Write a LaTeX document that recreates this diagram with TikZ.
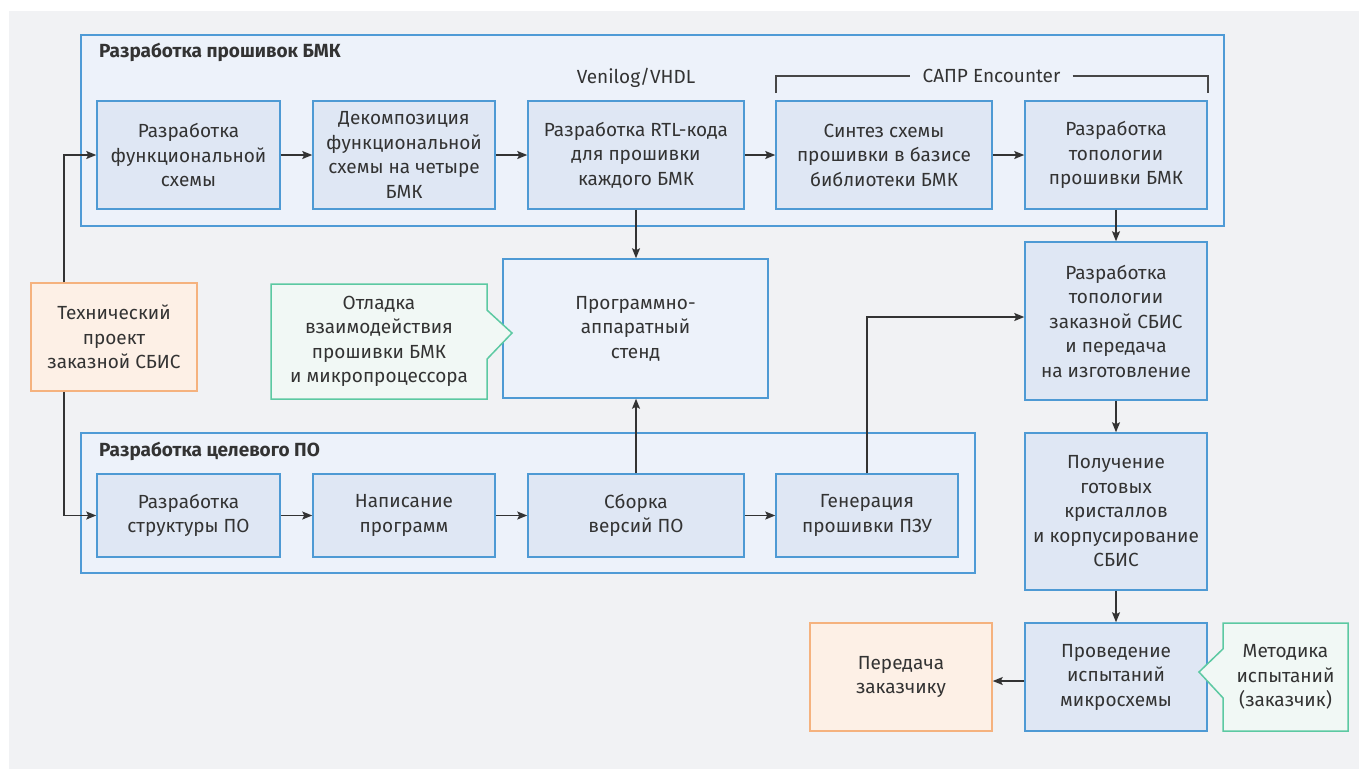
\documentclass[tikz,border=0pt]{standalone}
\usepackage{fontspec}
\setmainfont{Fira Sans}
\usetikzlibrary{arrows.meta,shapes.callouts}

\definecolor{pageGray}{HTML}{F1F2F4}
\definecolor{ink}{HTML}{333333}
\definecolor{grpFill}{HTML}{EDF2FA}
\definecolor{grpLine}{HTML}{4F9BD6}
\definecolor{boxFill}{HTML}{DFE7F4}
\definecolor{boxLine}{HTML}{4E9AD4}
\definecolor{extFill}{HTML}{FDF0E6}
\definecolor{extLine}{HTML}{F5B27E}
\definecolor{noteFill}{HTML}{F1F8F5}
\definecolor{noteLine}{HTML}{5CC9A2}

\begin{document}
\begin{tikzpicture}[x=1pt, y=-1pt,
	every node/.style={font=\fontsize{19}{24.5}\selectfont, text=ink, align=center, inner sep=0pt},
	>={Stealth[length=10pt, width=8pt, inset=2pt]},
	box/.style={draw=boxLine, fill=boxFill, line width=1.5pt},
	ext/.style={draw=extLine, fill=extFill, line width=1.5pt},
	note/.style={draw=noteLine, fill=noteFill, line width=1.5pt, rectangle callout, callout pointer width=49pt},
	grp/.style={draw=grpLine, fill=grpFill, line width=1.4pt},
	link/.style={->, draw=ink, line width=1.4pt},
	title/.style={anchor=west, font=\fontsize{19}{22}\selectfont\bfseries}]
	\useasboundingbox (0,0) rectangle (1359,769);
	\fill[white] (0,0) rectangle (1359,769);
	\fill[pageGray] (9,11) rectangle (1359,769);
	% firmware group
	\draw[grp] (81,35) rectangle (1224,226);
	\node[title] (fwTitle) at (99,52) {Разработка прошивок БМК};
	\node (hdl) at (636,78) {Venilog/VHDL};
	\node[inner xsep=12pt] (cad) at (991.5,76) {САПР Encounter};
	\coordinate (cadL) at (776,93);
	\coordinate (cadR) at (1208,93);
	\draw[ink!90, line width=1.2pt] (cadL) |- (cad.west);
	\draw[ink!90, line width=1.2pt] (cad.east) -| (cadR);
	\node[box, minimum width=183pt, minimum height=108pt] (fw1) at (188.5,155) {Разработка\\функциональной\\схемы};
	\node[box, minimum width=182pt, minimum height=108pt] (fw2) at (404,155) {Декомпозиция\\функциональной\\схемы на четыре\\БМК};
	\node[box, minimum width=216pt, minimum height=108pt] (fw3) at (636,155) {Разработка RTL-кода\\для прошивки\\каждого БМК};
	\node[box, minimum width=216pt, minimum height=108pt] (fw4) at (884,155) {Синтез схемы\\прошивки в базисе\\библиотеки БМК};
	\node[box, minimum width=182pt, minimum height=108pt] (fw5) at (1116,155) {Разработка\\топологии\\прошивки БМК};
	% software group
	\draw[grp] (81,433) rectangle (975,573);
	\node[title] (swTitle) at (99,451) {Разработка целевого ПО};
	\node[box, minimum width=183pt, minimum height=83pt] (sw1) at (188.5,515.5) {Разработка\\структуры ПО};
	\node[box, minimum width=182pt, minimum height=83pt] (sw2) at (404,515.5) {Написание\\программ};
	\node[box, minimum width=216pt, minimum height=83pt] (sw3) at (636,515.5) {Сборка\\версий ПО};
	\node[box, minimum width=182pt, minimum height=83pt] (sw4) at (867,515.5) {Генерация\\прошивки ПЗУ};
	% middle
	\node[draw=boxLine, fill=grpFill, line width=1.5pt, minimum width=265pt, minimum height=139pt] (stand) at (635.5,328.5) {Программно-\\аппаратный\\стенд};
	\node[note, callout absolute pointer={(512,333)}, minimum width=216pt, minimum height=115pt] (debug) at (379,341.5) {Отладка\\взаимодействия\\прошивки БМК\\и микропроцессора};
	\node[ext, minimum width=166pt, minimum height=108pt] (spec) at (114,337) {Технический\\проект\\заказной СБИС};
	% right column
	\node[box, minimum width=182pt, minimum height=158pt] (chip1) at (1116,321) {Разработка\\топологии\\заказной СБИС\\и передача\\на изготовление};
	\node[box, minimum width=182pt, minimum height=157pt] (chip2) at (1116,511.5) {Получение\\готовых\\кристаллов\\и корпусирование\\СБИС};
	\node[box, minimum width=182pt, minimum height=108pt] (chip3) at (1116,677) {Проведение\\испытаний\\микросхемы};
	\node[ext, minimum width=182pt, minimum height=108pt] (deliver) at (901,677) {Передача\\заказчику};
	\node[note, callout absolute pointer={(1199,672)}, minimum width=125pt, minimum height=108pt] (method) at (1285.5,677) {Методика\\испытаний\\(заказчик)};
	% connectors
	\coordinate (spine) at (64,0);
	\draw[link] (spec.north -| spine) |- (fw1.west);
	\draw[link] (spec.south -| spine) |- (sw1.west);
	\draw[link] (fw1) -- (fw2);
	\draw[link] (fw2) -- (fw3);
	\draw[link] (fw3) -- (fw4);
	\draw[link] (fw4) -- (fw5);
	\draw[link] (sw1) -- (sw2);
	\draw[link] (sw2) -- (sw3);
	\draw[link] (sw3) -- (sw4);
	\draw[link] (fw3.south) -- (stand.north -| fw3.south);
	\draw[link] (sw3.north) -- (stand.south -| sw3.north);
	\draw[link] (sw4.north) |- ([yshift=4pt]chip1.west);
	\draw[link] (fw5) -- (chip1);
	\draw[link] (chip1) -- (chip2);
	\draw[link] (chip2) -- (chip3);
	\draw[link] ([yshift=-4pt]chip3.west) -- ([yshift=-4pt]deliver.east);
\end{tikzpicture}
\end{document}
